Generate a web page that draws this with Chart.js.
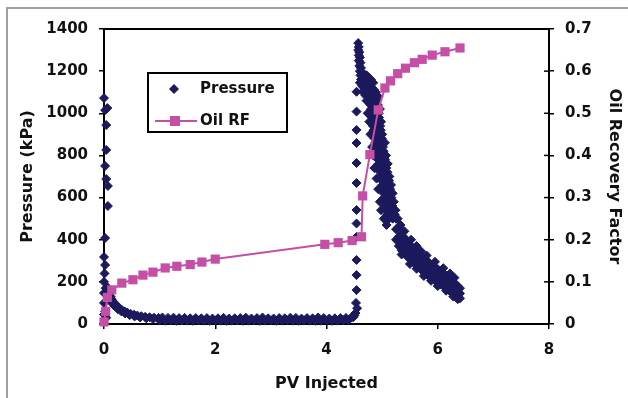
<!DOCTYPE html>
<html>
<head>
<meta charset="utf-8">
<script src="https://cdn.jsdelivr.net/npm/chart.js@4/dist/chart.umd.min.js"></script>
<style>
  html, body { margin: 0; padding: 0; background: #fff; }
  canvas { display: block; }
</style>
</head>
<body>
<canvas id="pvChart" width="628" height="398"></canvas>
<script>
// Pressure readings (kPa) vs PV injected, grouped by part of the curve
const pvSpike = [0.00, 0.02, 0.06, 0.04, 0.04, 0.02, 0.04, 0.07, 0.07, 0.02, 0.00, 0.02, 0.00, 0.00, 0.00, 0.02, 0.04, 0.01, 0.03, 0.00];
const pSpike  = [1072, 1015, 1025, 944, 826, 750, 688, 655, 560, 408, 318, 280, 200, 147, 100, 60, 30, 240, 170, 45];

const pvDecay = [0.06, 0.08, 0.10, 0.12, 0.14, 0.17, 0.20, 0.24, 0.28, 0.32, 0.37, 0.42, 0.48, 0.54, 0.60, 0.67, 0.74, 0.82, 0.90, 0.98,
                 0.10, 0.14, 0.19, 0.25, 0.31, 0.38, 0.46, 0.55, 0.65, 0.76, 0.88];
const pDecay  = [175, 160, 145, 130, 118, 105, 95, 84, 75, 67, 60, 54, 48, 44, 40, 37, 34, 32, 30, 29,
                 120, 100, 85, 70, 60, 50, 42, 36, 31, 27, 24];

const pvFlatHi = [1.05, 1.15, 1.25, 1.35, 1.45, 1.55, 1.65, 1.75, 1.85, 1.95, 2.05, 2.15, 2.25, 2.35, 2.45, 2.55, 2.65, 2.75,
                  2.85, 2.95, 3.05, 3.15, 3.25, 3.35, 3.45, 3.55, 3.65, 3.75, 3.85, 3.95, 4.05, 4.15, 4.25, 4.35, 4.45];
const pFlatHi  = [31, 29, 30, 28, 29, 27, 28, 27, 28, 26, 27, 29, 26, 27, 28, 30, 26, 28,
                  31, 27, 26, 28, 27, 30, 29, 26, 28, 27, 31, 28, 26, 27, 28, 29, 32];
const pvFlatLo = [1.00, 1.10, 1.20, 1.30, 1.40, 1.50, 1.60, 1.70, 1.80, 1.90, 2.00, 2.10, 2.20, 2.30, 2.40, 2.50, 2.60, 2.70,
                  2.80, 2.90, 3.00, 3.10, 3.20, 3.30, 3.40, 3.50, 3.60, 3.70, 3.80, 3.90, 4.00, 4.10, 4.20, 4.30, 4.40];
const pFlatLo  = [17, 16, 18, 15, 17, 16, 15, 17, 16, 15, 17, 16, 15, 16, 17, 15, 16, 17,
                  15, 16, 17, 15, 16, 17, 16, 15, 17, 16, 15, 16, 17, 15, 16, 18, 19];

const pvCol = [4.54, 4.54, 4.54, 4.54, 4.54, 4.54, 4.54, 4.54, 4.54, 4.54, 4.54, 4.54, 4.53, 4.52, 4.50, 4.48, 4.55];
const pCol  = [1102, 1008, 921, 859, 764, 669, 541, 477, 413, 304, 232, 161, 100, 52, 40, 32, 75];

const pvBlob = [4.57, 4.58, 4.57, 4.59, 4.58, 4.60, 4.58, 4.61, 4.59, 4.62, 4.60, 4.63, 4.61, 4.65, 4.68, 4.72, 4.76, 4.80, 4.84,
                4.62, 4.66, 4.70, 4.74, 4.78, 4.82, 4.86, 4.64, 4.68, 4.72, 4.76, 4.88, 4.60, 4.66, 4.70];
const pBlob  = [1333, 1315, 1300, 1290, 1275, 1265, 1250, 1240, 1225, 1215, 1200, 1195, 1180, 1175, 1185, 1180, 1170, 1160, 1145,
                1160, 1150, 1140, 1135, 1125, 1120, 1110, 1130, 1115, 1105, 1100, 1090, 1145, 1100, 1085];

// steep drop after breakthrough: pressure levels and band position (left / centre / right)
const pSteep = [1100, 1080, 1060, 1040, 1020, 1000, 980, 960, 940, 920, 900, 880, 860, 840, 820, 800,
                780, 760, 740, 720, 700, 680, 660, 640, 620, 600, 580, 560, 540, 520, 500];
const pvSteepL = [4.755, 4.765, 4.78, 4.79, 4.80, 4.81, 4.815, 4.825, 4.835, 4.845, 4.855, 4.865, 4.875, 4.885, 4.895, 4.91,
                  4.925, 4.935, 4.945, 4.965, 4.985, 4.995, 5.005, 5.015, 5.025, 5.035, 5.045, 5.055, 5.075, 5.095, 5.125];
const pvSteepC = [4.82, 4.83, 4.845, 4.855, 4.865, 4.875, 4.88, 4.89, 4.90, 4.91, 4.92, 4.93, 4.94, 4.95, 4.96, 4.975,
                  4.99, 5.00, 5.01, 5.03, 5.05, 5.06, 5.07, 5.08, 5.09, 5.10, 5.11, 5.12, 5.14, 5.16, 5.19];
const pvSteepR = [4.885, 4.895, 4.91, 4.92, 4.93, 4.94, 4.945, 4.955, 4.965, 4.975, 4.985, 4.995, 5.005, 5.015, 5.025, 5.04,
                  5.055, 5.065, 5.075, 5.095, 5.115, 5.125, 5.135, 5.145, 5.155, 5.165, 5.175, 5.185, 5.205, 5.225, 5.255];

// slow tail: PV columns with upper / centre / lower pressure
const pvTail  = [5.25, 5.30, 5.35, 5.40, 5.45, 5.50, 5.55, 5.60, 5.65, 5.70, 5.75, 5.80,
                 5.85, 5.90, 5.95, 6.00, 6.05, 6.10, 6.15, 6.20, 6.25, 6.30, 6.35, 6.40];
const pTailHi = [500, 460, 430, 410, 390, 375, 362, 348, 333, 322, 310, 300, 290, 280, 270, 260, 250, 240, 230, 220, 208, 196, 182, 170];
const pTailC  = [450, 415, 390, 372, 355, 342, 330, 315, 300, 290, 278, 268, 258, 248, 238, 228, 219, 210, 200, 190, 180, 168, 156, 145];
const pTailLo = [400, 370, 350, 335, 320, 308, 296, 282, 268, 258, 246, 236, 226, 216, 206, 196, 188, 180, 170, 160, 150, 140, 130, 122];

// scattered readings along the ragged edges of the band
const pvEdge = [4.72, 4.74, 4.77, 4.79, 4.82, 4.84, 4.86, 4.90, 4.93, 4.96, 4.98, 5.03, 5.08,
                4.93, 4.96, 4.98, 5.00, 5.05, 5.07, 5.10, 5.13, 5.16, 5.19, 5.21, 5.24, 5.28, 5.33,
                5.40, 5.52, 5.62, 5.70, 5.80, 5.95, 6.10, 6.22, 6.30,
                5.35, 5.50, 5.62, 5.75, 5.88, 6.00, 6.15, 6.28, 6.36];
const pEdge  = [1060, 1000, 960, 900, 840, 800, 740, 690, 640, 580, 540, 500, 470,
                1080, 1020, 960, 900, 860, 800, 760, 700, 660, 620, 580, 540, 500, 470,
                440, 400, 370, 345, 325, 295, 265, 240, 220,
                330, 285, 262, 228, 205, 180, 158, 130, 118];

// Oil recovery factor vs PV injected
const pvRF = [0.00, 0.03, 0.06, 0.14, 0.32, 0.52, 0.70, 0.88, 1.10, 1.31, 1.55, 1.76, 2.00, 3.97, 4.21, 4.46,
              4.63, 4.65, 4.78, 4.93, 5.05, 5.15, 5.28, 5.42, 5.58, 5.72, 5.90, 6.13, 6.40];
const oilRF = [0.005, 0.030, 0.063, 0.081, 0.097, 0.105, 0.116, 0.123, 0.133, 0.137, 0.141, 0.147, 0.154, 0.189, 0.193, 0.198,
               0.207, 0.304, 0.402, 0.508, 0.560, 0.577, 0.594, 0.607, 0.620, 0.628, 0.638, 0.646, 0.655];

// Axis ticks
const xTicks = [0, 2, 4, 6, 8];
const pTicks = [0, 200, 400, 600, 800, 1000, 1200, 1400];
const rfTicks = [0, 0.1, 0.2, 0.3, 0.4, 0.5, 0.6, 0.7];

const navy = '#1c1a5c';
const pink = '#c44fa5';
const fontFamily = '"DejaVu Sans", Verdana, sans-serif';

const toPoints = (xs, ys) => xs.map((x, i) => ({ x: x, y: ys[i] }));

const pressurePoints = [].concat(
    toPoints(pvSpike, pSpike),
    toPoints(pvDecay, pDecay),
    toPoints(pvFlatHi, pFlatHi),
    toPoints(pvFlatLo, pFlatLo),
    toPoints(pvCol, pCol),
    toPoints(pvBlob, pBlob),
    toPoints(pvSteepL, pSteep),
    toPoints(pvSteepC, pSteep),
    toPoints(pvSteepR, pSteep),
    toPoints(pvTail, pTailHi),
    toPoints(pvTail, pTailC),
    toPoints(pvTail, pTailLo),
    toPoints(pvEdge, pEdge)
);

// Outer frame + top edge of plot box + inner half of right ticks
const framePlugin = {
    id: 'frame',
    beforeDraw(chart) {
        const c = chart.ctx;
        c.save();
        c.fillStyle = '#fff';
        c.fillRect(0, 0, chart.width, chart.height);
        c.strokeStyle = '#a0a0a0';
        c.lineWidth = 2;
        c.beginPath();
        c.moveTo(7, chart.height);
        c.lineTo(7, 8);
        c.lineTo(chart.width, 8);
        c.stroke();
        c.restore();
    },
    afterDraw(chart) {
        const c = chart.ctx;
        const a = chart.chartArea;
        const y1 = chart.scales.y1;
        c.save();
        c.strokeStyle = '#000';
        c.lineWidth = 2;
        c.beginPath();
        c.moveTo(a.left - 1, a.top);
        c.lineTo(a.right + 1, a.top);
        c.stroke();
        c.lineWidth = 1.5;
        y1.ticks.forEach(t => {
            const y = y1.getPixelForValue(t.value);
            c.beginPath();
            c.moveTo(a.right - 5, y);
            c.lineTo(a.right, y);
            c.stroke();
        });
        c.restore();
    }
};

// Boxed legend inside the plot
const legendPlugin = {
    id: 'boxLegend',
    afterDraw(chart) {
        const c = chart.ctx;
        c.save();
        c.fillStyle = '#fff';
        c.fillRect(148, 73, 139, 59);
        c.strokeStyle = '#000';
        c.lineWidth = 2;
        c.strokeRect(148, 73, 139, 59);

        c.fillStyle = navy;
        c.beginPath();
        c.moveTo(169, 89);
        c.lineTo(174, 84);
        c.lineTo(179, 89);
        c.lineTo(174, 94);
        c.closePath();
        c.fill();

        c.strokeStyle = pink;
        c.lineWidth = 2;
        c.beginPath();
        c.moveTo(155, 121);
        c.lineTo(197, 121);
        c.stroke();
        c.fillStyle = pink;
        c.fillRect(170, 116, 10, 10);

        c.fillStyle = '#111';
        c.font = 'bold 15px ' + fontFamily;
        c.textBaseline = 'middle';
        c.fillText('Pressure', 200, 89);
        c.fillText('Oil RF', 200, 121);
        c.restore();
    }
};

const tickFont = { family: fontFamily, size: 15, weight: 'bold' };
const titleFont = { family: fontFamily, size: 16, weight: 'bold' };
const axisGrid = { drawOnChartArea: false, drawTicks: true, tickLength: 5, color: '#000', lineWidth: 1.5 };
const axisBorder = { color: '#000', width: 2 };

const ctx = document.getElementById('pvChart').getContext('2d');
new Chart(ctx, {
    type: 'scatter',
    data: {
        datasets: [
            {
                label: 'Oil RF',
                data: toPoints(pvRF, oilRF),
                yAxisID: 'y1',
                showLine: true,
                borderColor: pink,
                borderWidth: 2,
                backgroundColor: pink,
                pointStyle: 'rect',
                pointRadius: 6.5,
                pointBorderWidth: 0,
                clip: false
            },
            {
                label: 'Pressure',
                data: pressurePoints,
                yAxisID: 'y',
                showLine: false,
                backgroundColor: navy,
                borderColor: navy,
                pointStyle: 'rectRot',
                pointRadius: 4.5,
                pointBorderWidth: 1,
                clip: false
            }
        ]
    },
    options: {
        responsive: false,
        animation: false,
        layout: { padding: { top: 29, left: 0, right: 0, bottom: 0 } },
        plugins: {
            legend: { display: false },
            tooltip: { enabled: false }
        },
        scales: {
            x: {
                type: 'linear',
                position: 'bottom',
                min: 0, max: 8,
                afterBuildTicks: s => { s.ticks = xTicks.map(v => ({ value: v })); },
                afterFit: s => { s.height = 74; },
                ticks: { font: tickFont, color: '#111', padding: 12, callback: v => String(v) },
                grid: axisGrid,
                border: axisBorder,
                title: { display: true, text: 'PV Injected', font: titleFont, color: '#111', padding: { top: 0, bottom: 5 } }
            },
            y: {
                position: 'left',
                min: 0, max: 1400,
                afterBuildTicks: s => { s.ticks = pTicks.map(v => ({ value: v })); },
                afterFit: s => { s.width = 104; },
                ticks: { font: tickFont, color: '#111', padding: 11, callback: v => String(v) },
                grid: axisGrid,
                border: axisBorder,
                title: { display: true, text: 'Pressure (kPa)', font: titleFont, color: '#111', padding: { top: 18, bottom: 0 } }
            },
            y1: {
                position: 'right',
                min: 0, max: 0.7,
                afterBuildTicks: s => { s.ticks = rfTicks.map(v => ({ value: v })); },
                afterFit: s => { s.width = 79; },
                ticks: { font: tickFont, color: '#111', padding: 11, callback: v => String(Math.round(v * 10) / 10) },
                grid: axisGrid,
                border: axisBorder,
                title: { display: true, text: 'Oil Recovery Factor', font: titleFont, color: '#111', padding: { top: 4, bottom: 0 } }
            }
        }
    },
    plugins: [framePlugin, legendPlugin]
});
</script>
</body>
</html>
